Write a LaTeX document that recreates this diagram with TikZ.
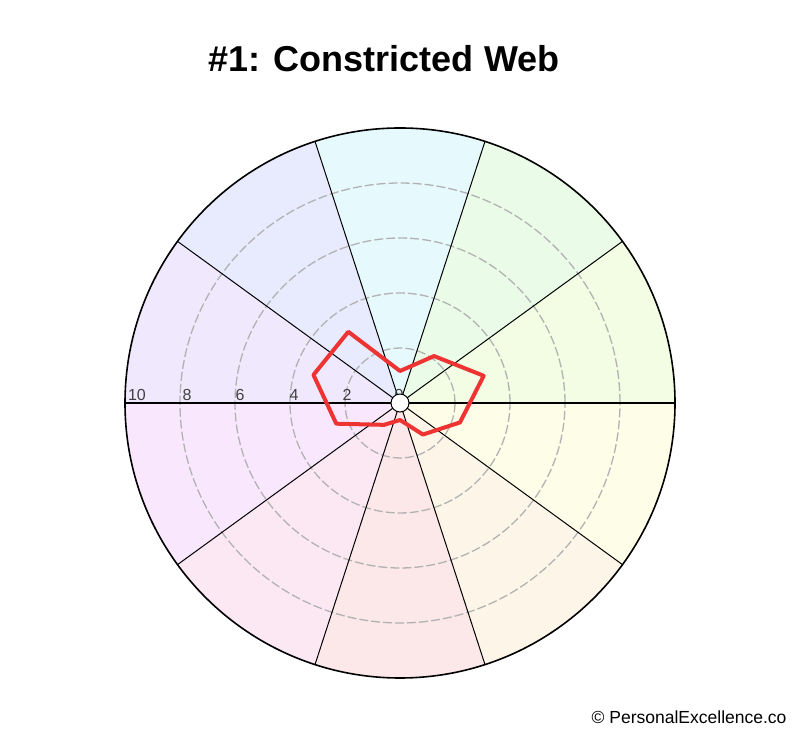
\documentclass[tikz,border=0pt]{standalone}
\usepackage{fontspec}
\setmainfont{Liberation Sans}
\usetikzlibrary{calc}
\definecolor{web}{HTML}{EE3333}
\begin{document}
\begin{tikzpicture}[x=1pt,y=1pt,
  ring/.style={gray!60,dashed,dash pattern=on 9pt off 3pt,line width=1.3pt},
  spoke/.style={black,line width=1pt},
  lbl/.style={text=black!75,font=\fontsize{16}{16}\selectfont,anchor=south}]
\useasboundingbox (0,0) rectangle (800,735);
\coordinate (c) at (400,332);
\def\R{275}
\foreach \a/\col in {0/F2FDE4,36/EAFCE8,72/E6F9FD,108/E8EAFD,144/F0E8FD,180/F9E8FD,216/FCE8F3,252/FCE8E8,288/FDF6E8,324/FEFDE8}{
  \definecolor{sc}{HTML}{\col}
  \fill[sc] (c) -- ++(\a:\R) arc[start angle=\a,end angle=\a+36,radius=\R] -- cycle;}
\foreach \r in {55,110,165,220} \draw[ring] (c) circle[radius=\r];
\foreach \a in {36,72,108,144,216,252,288,324} \draw[spoke] (c) -- ++(\a:\R) coordinate (s\a);
\draw[black,line width=2pt] (c) ++(180:\R) -- ++(2*\R,0);
\draw[black,line width=1.6pt] (c) circle[radius=\R];
\foreach \v/\x in {10/138,8/188,6/241,4/295,2/348,0/400}
  \node[lbl] (l\v) at (\x-1,331) {\v};
\draw[web,line width=4pt,line join=round]
  ($(c)+(18:88)$) coordinate (p1)
  -- ($(c)+(54:58)$) coordinate (p2)
  -- ($(c)+(90:32)$)
  -- ($(c)+(126:88)$)
  -- ($(c)+(162:91)$)
  -- ($(c)+(198:67)$)
  -- ($(c)+(234:27)$)
  -- ($(c)+(270:17)$)
  -- ($(c)+(306:39)$)
  -- ($(c)+(342:63)$)
  -- cycle;
\draw[black,fill=white,line width=1pt] (c) circle[radius=9];
\node[font=\bfseries\fontsize{36}{36}\selectfont] (title) at (384,676) {\#1: Constricted Web};
\node[font=\fontsize{17.5}{17.5}\selectfont,anchor=east] (copy) at (790,18) {© PersonalExcellence.co};
\end{tikzpicture}
\end{document}
